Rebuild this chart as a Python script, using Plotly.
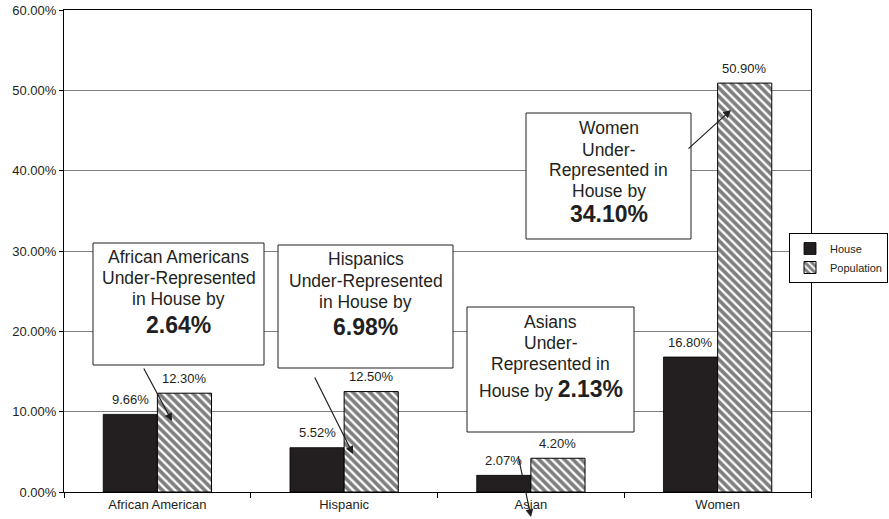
import plotly.graph_objects as go

# ---- data ----
categories = ["African American", "Hispanic", "Asian", "Women"]
house = [0.0966, 0.0552, 0.0207, 0.168]
population = [0.123, 0.125, 0.042, 0.509]
series_names = ["House", "Population"]
y_ticks = [0, 0.1, 0.2, 0.3, 0.4, 0.5, 0.6]

# ---- geometry helpers (plot area in pixels) ----
W, H = 889, 519
L, R, T, B = 64, 78, 10, 27
PX0, PX1 = L, W - R
PY0, PY1 = T, H - B


def px(x):
    return (x - PX0) / (PX1 - PX0)


def py(y):
    return (PY1 - y) / (PY1 - PY0)


FONT = "Liberation Sans, Arial, sans-serif"
TXT = "#231f20"
BARGAP = 0.42

fig = go.Figure()
fig.add_trace(go.Bar(
    name=series_names[0], x=categories, y=house,
    marker=dict(color="#231f20", line=dict(color="black", width=0.8)),
))
fig.add_trace(go.Bar(
    name=series_names[1], x=categories, y=population,
    marker=dict(color="white", line=dict(color="black", width=1),
                pattern=dict(shape="\\", fgcolor="black", bgcolor="white",
                             size=6, solidity=0.62)),
))

annotations = []
# value labels above bars
half = (1 - BARGAP) / 4
for i, (h, p) in enumerate(zip(house, population)):
    for off, v in ((-half, h), (half, p)):
        annotations.append(dict(
            x=i + off, y=v, xref="x", yref="y", text=f"{v:.2%}",
            showarrow=False, yanchor="middle", yshift=15,
            font=dict(family=FONT, size=13, color=TXT)))

# callout boxes: (x0, y0, x1, y1) pixels, lines [(text, y_center)]
BODY = 17.5
BOLD = 23
boxes = [
    ((93, 243, 264, 365), [("African Americans", 257), ("Under-Represented", 278),
                           ("in House by", 299), ("<b>2.64%</b>", 325)]),
    ((278, 245, 453, 368), [("Hispanics", 259), ("Under-Represented", 281),
                            ("in House by", 302), ("<b>6.98%</b>", 327)]),
    ((467, 307, 634, 432), [("Asians", 322), ("Under-", 343), ("Represented in", 364),
                            ("House by <span style='font-size:23px'><b>2.13%</b></span>", 389)]),
    ((526, 113, 691, 239), [("Women", 128), ("Under-", 150), ("Represented in", 170),
                            ("House by", 191), ("<b>34.10%</b>", 214)]),
]
shapes = []
for (x0, y0, x1, y1), lines in boxes:
    shapes.append(dict(type="rect", xref="paper", yref="paper",
                       x0=px(x0), x1=px(x1), y0=py(y1), y1=py(y0),
                       line=dict(color="#231f20", width=1), fillcolor="white",
                       layer="above"))
    cx = (x0 + x1) / 2
    for text, yc in lines:
        size = BOLD if text.startswith("<b>") else BODY
        annotations.append(dict(
            x=px(cx), y=py(yc), xref="paper", yref="paper", text=text,
            showarrow=False, xanchor="center", yanchor="middle",
            font=dict(family=FONT, size=size, color=TXT)))

# arrows: tail -> head in pixels
arrows = [((143, 367), (172, 421)), ((314, 376), (353, 454)),
          ((518, 455), (531, 517)), ((687, 150), (731, 110))]
for (tx, ty), (hx, hy) in arrows:
    annotations.append(dict(
        x=px(hx), y=py(hy), xref="paper", yref="paper", text="",
        showarrow=True, ax=tx - hx, ay=ty - hy, axref="pixel", ayref="pixel",
        arrowhead=2, arrowsize=1.3, arrowwidth=1.2, arrowcolor="#231f20",
        standoff=0, startstandoff=0))

fig.update_layout(
    width=W, height=H,
    margin=dict(l=L, r=R, t=T, b=B, autoexpand=False),
    paper_bgcolor="white", plot_bgcolor="white",
    barmode="group", bargap=BARGAP, bargroupgap=0,
    font=dict(family=FONT, size=13, color=TXT),
    showlegend=True,
    legend=dict(x=px(888), xanchor="right", y=py(233), yanchor="top",
                xref="paper", yref="paper",
                bgcolor="white", bordercolor="black", borderwidth=1,
                font=dict(family=FONT, size=11, color=TXT),
                itemwidth=30, tracegroupgap=0),
    xaxis=dict(type="category", showline=True, linecolor="black", linewidth=1,
               mirror=True, ticks="outside", tickson="boundaries", ticklen=5,
               tickcolor="black", showgrid=False,
               tickfont=dict(family=FONT, size=13, color=TXT)),
    yaxis=dict(range=[0, 0.6], tickvals=y_ticks, tickformat=".2%",
               showgrid=True, gridcolor="#808080", gridwidth=1,
               showline=True, linecolor="black", linewidth=1, mirror=True,
               ticks="outside", ticklen=4, tickcolor="black", zeroline=False,
               tickfont=dict(family=FONT, size=13, color=TXT)),
    annotations=annotations, shapes=shapes,
)

fig.write_html("out.html")
